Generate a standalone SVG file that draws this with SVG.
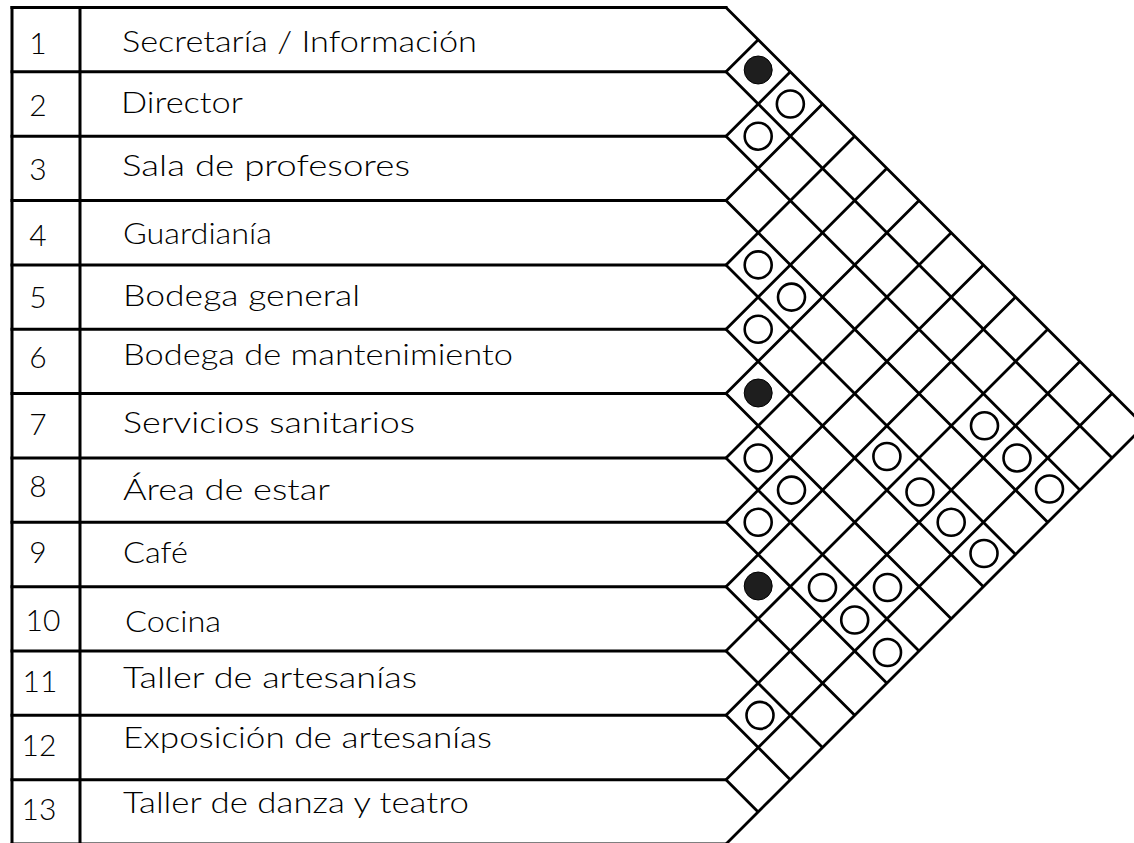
<svg xmlns="http://www.w3.org/2000/svg" width="1134" height="843" viewBox="0 0 1134 843">
<style>
.ln{stroke:#000;stroke-width:3;fill:none;stroke-linecap:square}
.dg{stroke:#000;stroke-width:2.8;fill:none}
.lbl{font-family:Lato,"Liberation Sans",sans-serif;font-weight:300;font-size:29px;fill:#000}
.num{font-family:Lato,"Liberation Sans",sans-serif;font-weight:300;font-size:30px;fill:#000;text-anchor:middle}
.o{fill:none;stroke:#000;stroke-width:2.6}
.f{fill:#1e1e1e;stroke:#000;stroke-width:1}
</style>
<rect width="1134" height="843" fill="#fff"/>
<g id="table">
<path class="ln" d="M12 7.5V845M80 7.5V845"/>
<path class="ln" d="M12 7.5H726M12 71.85H726M12 136.2H726M12 200.55H726M12 264.9H726M12 329.25H726M12 393.6H726M12 457.95H726M12 522.3H726M12 586.65H726M12 651H726M12 715.35H726M12 779.7H726M12 844.05H726"/>
</g>
<g id="connectors">
<path class="dg" d="M726 7.5l418.3 418.3M726 71.85l386.1 386.1M726 136.2l353.9 353.9M726 200.55l321.75 321.75M726 264.9l289.6 289.6M726 329.25l257.4 257.4M726 393.6l225.2 225.2M726 457.95l193.05 193.05M726 522.3l160.9 160.9M726 586.65l128.7 128.7M726 651l96.5 96.5M726 715.35l64.35 64.35M726 779.7l32.2 32.2"/>
<path class="dg" d="M726 71.85l32.2 -32.2M726 136.2l64.35 -64.35M726 200.55l96.5 -96.5M726 264.9l128.7 -128.7M726 329.25l160.9 -160.9M726 393.6l193.05 -193.05M726 457.95l225.2 -225.2M726 522.3l257.4 -257.4M726 586.65l289.6 -289.6M726 651l321.75 -321.75M726 715.35l353.9 -353.9M726 779.7l386.1 -386.1M726 844.05l418.3 -418.3"/>
</g>
<g id="row-1"><text class="num" x="38" y="54">1</text><text class="lbl" x="122" y="52" textLength="355" lengthAdjust="spacingAndGlyphs">Secretaría / Información</text></g>
<g id="row-2"><text class="num" x="38" y="116">2</text><text class="lbl" x="121" y="113" textLength="122" lengthAdjust="spacingAndGlyphs">Director</text></g>
<g id="row-3"><text class="num" x="38" y="180">3</text><text class="lbl" x="122" y="176" textLength="288" lengthAdjust="spacingAndGlyphs">Sala de profesores</text></g>
<g id="row-4"><text class="num" x="38" y="246">4</text><text class="lbl" x="123" y="244" textLength="149" lengthAdjust="spacingAndGlyphs">Guardianía</text></g>
<g id="row-5"><text class="num" x="38" y="308">5</text><text class="lbl" x="123" y="306" textLength="237" lengthAdjust="spacingAndGlyphs">Bodega general</text></g>
<g id="row-6"><text class="num" x="38" y="368">6</text><text class="lbl" x="123" y="365" textLength="390" lengthAdjust="spacingAndGlyphs">Bodega de mantenimiento</text></g>
<g id="row-7"><text class="num" x="38" y="435">7</text><text class="lbl" x="123" y="433" textLength="292" lengthAdjust="spacingAndGlyphs">Servicios sanitarios</text></g>
<g id="row-8"><text class="num" x="38" y="497">8</text><text class="lbl" x="123" y="500" textLength="207" lengthAdjust="spacingAndGlyphs">Área de estar</text></g>
<g id="row-9"><text class="num" x="38" y="563">9</text><text class="lbl" x="123" y="563" textLength="65" lengthAdjust="spacingAndGlyphs">Café</text></g>
<g id="row-10"><text class="num" x="43" y="631">10</text><text class="lbl" x="125" y="632" textLength="96" lengthAdjust="spacingAndGlyphs">Cocina</text></g>
<g id="row-11"><text class="num" x="40" y="692">11</text><text class="lbl" x="123" y="688" textLength="294" lengthAdjust="spacingAndGlyphs">Taller de artesanías</text></g>
<g id="row-12"><text class="num" x="39" y="756">12</text><text class="lbl" x="123" y="748" textLength="369" lengthAdjust="spacingAndGlyphs">Exposición de artesanías</text></g>
<g id="row-13"><text class="num" x="39" y="820">13</text><text class="lbl" x="123" y="813" textLength="346" lengthAdjust="spacingAndGlyphs">Taller de danza y teatro</text></g>
<g id="marks">
<circle class="f" cx="758.2" cy="70" r="14"/>
<circle class="f" cx="758.2" cy="393" r="14"/>
<circle class="f" cx="758.2" cy="586" r="14"/>
<circle class="o" cx="790.35" cy="104" r="13.5"/>
<circle class="o" cx="758.2" cy="136.2" r="13.5"/>
<circle class="o" cx="758.2" cy="264.9" r="13.5"/>
<circle class="o" cx="791.5" cy="297.1" r="13.5"/>
<circle class="o" cx="758.2" cy="329.25" r="13.5"/>
<circle class="o" cx="758.2" cy="457.95" r="13.5"/>
<circle class="o" cx="791.5" cy="490.1" r="13.5"/>
<circle class="o" cx="758.2" cy="522.3" r="13.5"/>
<circle class="o" cx="886.9" cy="456.5" r="13.5"/>
<circle class="o" cx="984.5" cy="425.8" r="13.5"/>
<circle class="o" cx="1017" cy="457.95" r="13.5"/>
<circle class="o" cx="1049.5" cy="489" r="13.5"/>
<circle class="o" cx="920" cy="492" r="13.5"/>
<circle class="o" cx="951.2" cy="522.3" r="13.5"/>
<circle class="o" cx="984" cy="553.5" r="13.5"/>
<circle class="o" cx="822.5" cy="587.5" r="13.5"/>
<circle class="o" cx="887.5" cy="587.5" r="13.5"/>
<circle class="o" cx="854.7" cy="620" r="13.5"/>
<circle class="o" cx="887.5" cy="652.5" r="13.5"/>
<circle class="o" cx="760" cy="715.35" r="13.5"/>
</g>
</svg>
